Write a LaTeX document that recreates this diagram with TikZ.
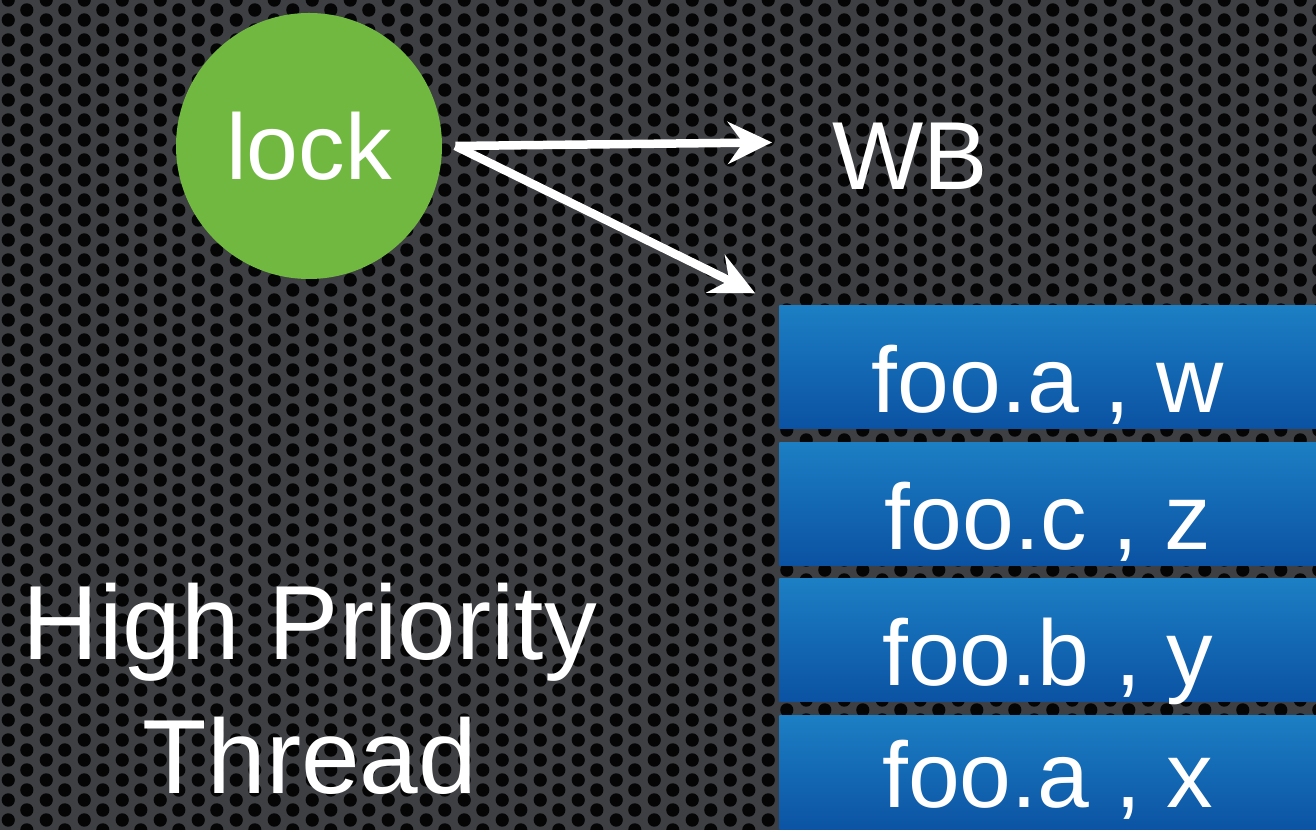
\documentclass[tikz,border=0pt]{standalone}
\usepackage{fontspec}
\setmainfont{Liberation Sans}
\usepackage{xcolor}
\definecolor{metal}{HTML}{3E3F43}
\definecolor{hole}{HTML}{050505}
\definecolor{lockgreen}{HTML}{71B840}
\definecolor{slottop}{HTML}{1C7FC4}
\definecolor{slotbottom}{HTML}{0B52A3}
\usepackage{tikz}
\usetikzlibrary{arrows.meta, positioning, patterns.meta}

\tikzdeclarepattern{
  name=perforation,
  type=uncolored,
  bounding box={(0,0) and (0.76cm,0.4cm)},
  tile size={(0.76cm,0.4cm)},
  code={
    \fill (0.19cm,0.2cm) circle (0.135cm);
    \fill (0.57cm,0cm) circle (0.135cm);
    \fill (0.57cm,0.4cm) circle (0.135cm);
  }
}

\begin{document}
\begin{tikzpicture}[>={Stealth[length=0.88cm, width=0.84cm, inset=0.3cm]},
  node distance=0.26cm,
  every node/.style={text=white, inner sep=0pt},
  slot/.style={minimum width=10.74cm, text height=2.14cm, text depth=0.32cm,
    top color=slottop, bottom color=slotbottom,
    font=\fontsize{53}{64}\selectfont},
  pointer/.style={->, white, line width=0.17cm}]

  % perforated backdrop
  \fill[metal] (0,0) rectangle (26.32,16.6);
  \fill[pattern=perforation, pattern color=hole] (0,0) rectangle (26.32,16.6);
  \useasboundingbox (0,0) rectangle (26.32,16.6);

  \node[circle, fill=lockgreen, minimum size=5.32cm,
        font=\fontsize{53}{64}\selectfont] (lock) at (6.18,13.68) {lock};

  \node[anchor=base west, font=\fontsize{55}{66}\selectfont] (wb)
    at (16.64,12.8) {WB};

  % write buffer entries
  \node[slot, anchor=north west] (slot1) at (15.58,10.5) {foo.a , w};
  \node[slot, below=of slot1] (slot2) {foo.c , z};
  \node[slot, below=of slot2] (slot3) {foo.b , y};
  \node[slot, below=of slot3, text height=1.84cm, text depth=0.5cm]
    (slot4) {foo.a , x};

  \node[align=center, anchor=north, font=\fontsize{60}{76}\selectfont]
    (thread) at (6.2,4.94) {High Priority\\Thread};

  \coordinate[right=0.26cm of lock] (fork);
  \draw[pointer, shorten >=1.2cm] (fork) -- ([yshift=0.3cm]wb.west);
  \draw[pointer, shorten >=0.53cm] (fork) -- (slot1.north west);

\end{tikzpicture}
\end{document}
